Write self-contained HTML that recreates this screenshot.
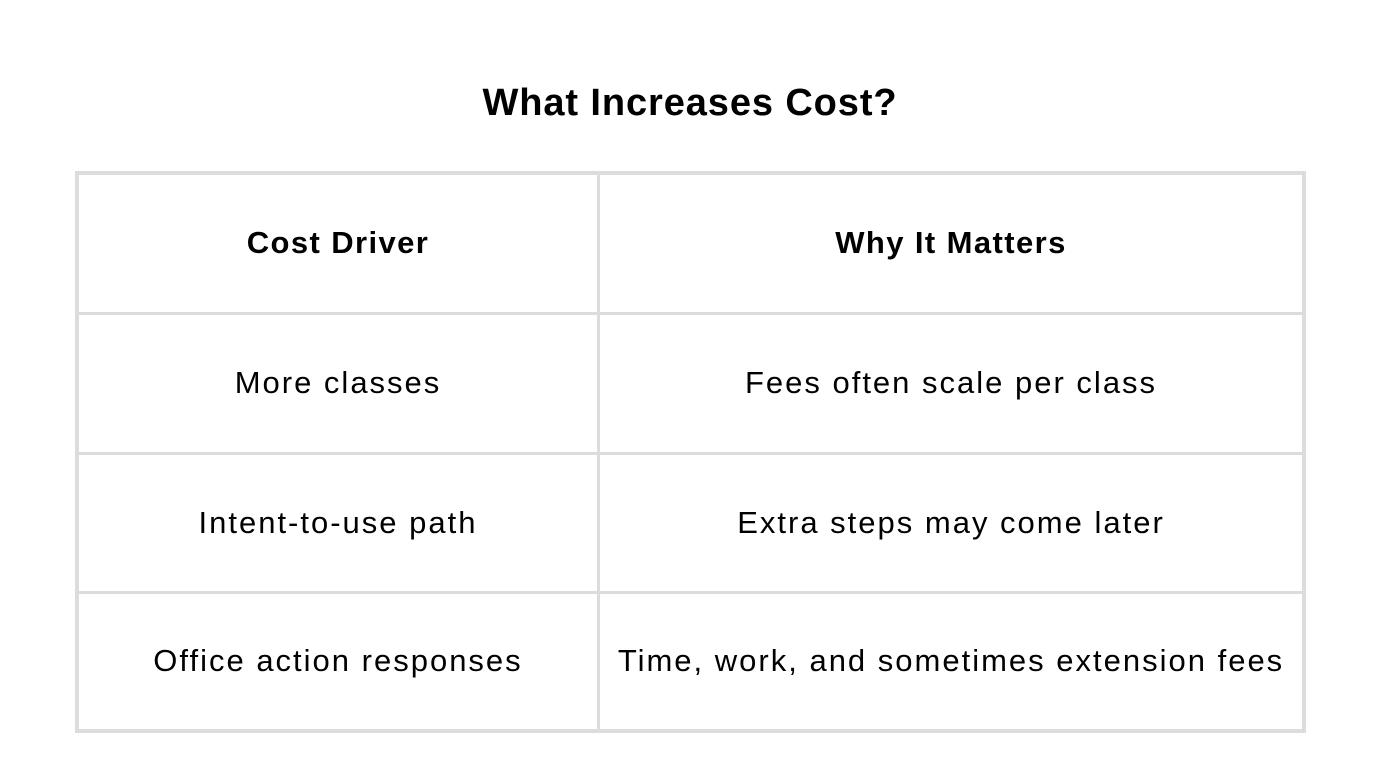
<!DOCTYPE html>
<html><head><style>
html,body{margin:0;padding:0;background:#fff;width:1380px;height:776px;overflow:hidden;font-family:"Liberation Sans",sans-serif;color:#000}
h1{position:absolute;top:78px;left:0;width:1380px;text-align:center;font-size:38px;font-weight:bold;margin:0;line-height:50px;letter-spacing:0.9px}
table{position:absolute;left:75px;top:171px;width:1231px;height:562px;border-collapse:collapse;border:4px solid #dcdcdc}
td,th{border:3px solid #dcdcdc;text-align:center;font-size:31px;font-weight:normal;padding:0;letter-spacing:2px}
th{font-weight:bold;font-size:31px;letter-spacing:1.4px}
td:first-child,th:first-child{width:518px}
</style></head><body>
<h1>What Increases Cost?</h1>
<table>
<tr style="height:140px"><th>Cost Driver</th><th>Why It Matters</th></tr>
<tr style="height:140px"><td>More classes</td><td>Fees often scale per class</td></tr>
<tr style="height:139px"><td>Intent-to-use path</td><td>Extra steps may come later</td></tr>
<tr><td>Office action responses</td><td>Time, work, and sometimes extension fees</td></tr>
</table>
</body></html>
